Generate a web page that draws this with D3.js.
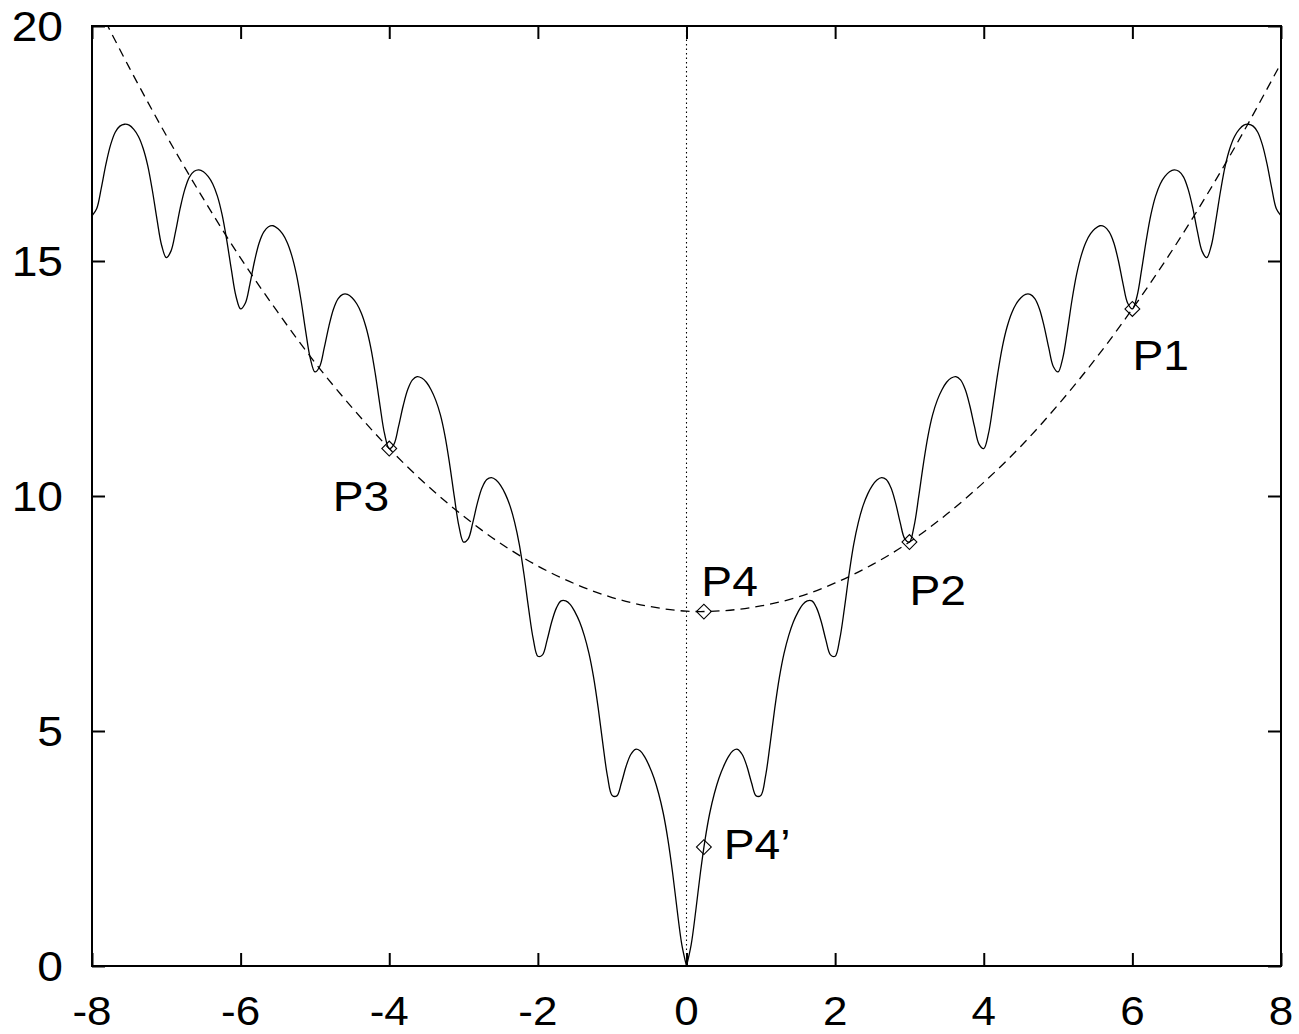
<!DOCTYPE html>
<html>
<head>
<meta charset="utf-8">
<script src="https://cdn.jsdelivr.net/npm/d3@7"></script>
<style>
  html, body { margin: 0; padding: 0; background: #ffffff; }
  svg { display: block; }
  text { font-family: "Liberation Sans", Arial, Helvetica, sans-serif; fill: #000; }
</style>
</head>
<body>
<svg id="chart" width="1299" height="1034"></svg>
<script>
// ---------------- DATA ----------------
const xTicks = [-8, -6, -4, -2, 0, 2, 4, 6, 8];
const yTicks = [0, 5, 10, 15, 20];

const curveX = [
  -8, -7.9375, -7.875, -7.8125, -7.75, -7.6875, -7.625, -7.5625, -7.5, -7.4375, -7.375, -7.3125, -7.25, -7.1875, -7.125, -7.0625,
  -7, -6.9375, -6.875, -6.8125, -6.75, -6.6875, -6.625, -6.5625, -6.5, -6.4375, -6.375, -6.3125, -6.25, -6.1875, -6.125, -6.0625,
  -6, -5.9375, -5.875, -5.8125, -5.75, -5.6875, -5.625, -5.5625, -5.5, -5.4375, -5.375, -5.3125, -5.25, -5.1875, -5.125, -5.0625,
  -5, -4.9375, -4.875, -4.8125, -4.75, -4.6875, -4.625, -4.5625, -4.5, -4.4375, -4.375, -4.3125, -4.25, -4.1875, -4.125, -4.0625,
  -4, -3.9375, -3.875, -3.8125, -3.75, -3.6875, -3.625, -3.5625, -3.5, -3.4375, -3.375, -3.3125, -3.25, -3.1875, -3.125, -3.0625,
  -3, -2.9375, -2.875, -2.8125, -2.75, -2.6875, -2.625, -2.5625, -2.5, -2.4375, -2.375, -2.3125, -2.25, -2.1875, -2.125, -2.0625,
  -2, -1.9375, -1.875, -1.8125, -1.75, -1.6875, -1.625, -1.5625, -1.5, -1.4375, -1.375, -1.3125, -1.25, -1.1875, -1.125, -1.0625,
  -1, -0.9375, -0.875, -0.8125, -0.75, -0.6875, -0.625, -0.5625, -0.5, -0.4375, -0.375, -0.3125, -0.25, -0.1875, -0.125, -0.0625,
  0, 0.0625, 0.125, 0.1875, 0.25, 0.3125, 0.375, 0.4375, 0.5, 0.5625, 0.625, 0.6875, 0.75, 0.8125, 0.875, 0.9375,
  1, 1.0625, 1.125, 1.1875, 1.25, 1.3125, 1.375, 1.4375, 1.5, 1.5625, 1.625, 1.6875, 1.75, 1.8125, 1.875, 1.9375,
  2, 2.0625, 2.125, 2.1875, 2.25, 2.3125, 2.375, 2.4375, 2.5, 2.5625, 2.625, 2.6875, 2.75, 2.8125, 2.875, 2.9375,
  3, 3.0625, 3.125, 3.1875, 3.25, 3.3125, 3.375, 3.4375, 3.5, 3.5625, 3.625, 3.6875, 3.75, 3.8125, 3.875, 3.9375,
  4, 4.0625, 4.125, 4.1875, 4.25, 4.3125, 4.375, 4.4375, 4.5, 4.5625, 4.625, 4.6875, 4.75, 4.8125, 4.875, 4.9375,
  5, 5.0625, 5.125, 5.1875, 5.25, 5.3125, 5.375, 5.4375, 5.5, 5.5625, 5.625, 5.6875, 5.75, 5.8125, 5.875, 5.9375,
  6, 6.0625, 6.125, 6.1875, 6.25, 6.3125, 6.375, 6.4375, 6.5, 6.5625, 6.625, 6.6875, 6.75, 6.8125, 6.875, 6.9375,
  7, 7.0625, 7.125, 7.1875, 7.25, 7.3125, 7.375, 7.4375, 7.5, 7.5625, 7.625, 7.6875, 7.75, 7.8125, 7.875, 7.9375,
  8
];
const curveY = [
  15.96, 16.11, 16.55, 17.06, 17.47, 17.74, 17.87, 17.91, 17.89, 17.80, 17.65, 17.40, 17.03, 16.50, 15.88, 15.33,
  15.07, 15.21, 15.63, 16.13, 16.53, 16.79, 16.91, 16.94, 16.90, 16.80, 16.64, 16.38, 15.99, 15.45, 14.82, 14.25,
  13.98, 14.10, 14.51, 15.00, 15.39, 15.62, 15.73, 15.75, 15.69, 15.58, 15.40, 15.12, 14.72, 14.17, 13.51, 12.93,
  12.64, 12.75, 13.15, 13.61, 13.98, 14.20, 14.29, 14.29, 14.22, 14.09, 13.89, 13.59, 13.17, 12.60, 11.93, 11.32,
  11.01, 11.10, 11.48, 11.92, 12.27, 12.47, 12.54, 12.51, 12.42, 12.26, 12.04, 11.73, 11.28, 10.68, 9.99, 9.36,
  9.02, 9.09, 9.44, 9.86, 10.18, 10.35, 10.39, 10.34, 10.22, 10.04, 9.79, 9.44, 8.97, 8.34, 7.61, 6.96,
  6.59, 6.62, 6.94, 7.33, 7.62, 7.77, 7.77, 7.69, 7.53, 7.32, 7.03, 6.65, 6.14, 5.48, 4.72, 4.03,
  3.63, 3.62, 3.90, 4.25, 4.50, 4.61, 4.58, 4.45, 4.25, 4.00, 3.67, 3.25, 2.69, 1.99, 1.18, 0.45,
  0, 0.45, 1.18, 1.99, 2.69, 3.25, 3.67, 4.00, 4.25, 4.45, 4.58, 4.61, 4.50, 4.25, 3.90, 3.62,
  3.63, 4.03, 4.72, 5.48, 6.14, 6.65, 7.03, 7.32, 7.53, 7.69, 7.77, 7.77, 7.62, 7.33, 6.94, 6.62,
  6.59, 6.96, 7.61, 8.34, 8.97, 9.44, 9.79, 10.04, 10.22, 10.34, 10.39, 10.35, 10.18, 9.86, 9.44, 9.09,
  9.02, 9.36, 9.99, 10.68, 11.28, 11.73, 12.04, 12.26, 12.42, 12.51, 12.54, 12.47, 12.27, 11.92, 11.48, 11.10,
  11.01, 11.32, 11.93, 12.60, 13.17, 13.59, 13.89, 14.09, 14.22, 14.29, 14.29, 14.20, 13.98, 13.61, 13.15, 12.75,
  12.64, 12.93, 13.51, 14.17, 14.72, 15.12, 15.40, 15.58, 15.69, 15.75, 15.73, 15.62, 15.39, 15.00, 14.51, 14.10,
  13.98, 14.25, 14.82, 15.45, 15.99, 16.38, 16.64, 16.80, 16.90, 16.94, 16.91, 16.79, 16.53, 16.13, 15.63, 15.21,
  15.07, 15.33, 15.88, 16.50, 17.03, 17.40, 17.65, 17.80, 17.89, 17.91, 17.87, 17.74, 17.47, 17.06, 16.55, 16.11,
  15.96
];

// Dashed parabola
const parabolaX = [-8, -7.5, -7, -6.5, -6, -5.5, -5, -4.5, -4, -3.5, -3, -2.5, -2, -1.5, -1, -0.5,
                   0, 0.5, 1, 1.5, 2, 2.5, 3, 3.5, 4, 4.5, 5, 5.5, 6, 6.5, 7, 7.5, 8];
const parabolaY = [20.66, 19.12, 17.67, 16.32, 15.06, 13.91, 12.84, 11.88, 11.01, 10.24, 9.57, 8.99, 8.51, 8.13, 7.84, 7.65,
                   7.55, 7.56, 7.66, 7.85, 8.15, 8.54, 9.02, 9.61, 10.29, 11.06, 11.94, 12.91, 13.98, 15.14, 16.40, 17.76, 19.21];

// Marked points
const pointNames = ["P1", "P2", "P3", "P4", "P4\u2019"];
const pointX = [6, 3, -4, 0.234, 0.234];
const pointY = [13.98, 9.02, 11.01, 7.54, 2.53];

// Label anchor positions (data units)
const labelX = [6, 3, -4, 0.2, 0.5];
const labelY = [13, 8, 10, 8.2, 2.6];
const labelAnchor = ["start", "start", "end", "start", "start"];

// ---------------- CHART ----------------
const W = 1299, H = 1034;
const margin = { left: 92, right: 18, top: 26, bottom: 68 };
const x = d3.scaleLinear().domain([-8, 8]).range([margin.left, W - margin.right]);
const y = d3.scaleLinear().domain([0, 20]).range([H - margin.bottom, margin.top]);

const svg = d3.select("#chart");
svg.append("rect").attr("width", W).attr("height", H).attr("fill", "#fff");

svg.append("defs").append("clipPath").attr("id", "plotclip")
  .append("rect")
  .attr("x", x(-8)).attr("y", y(20))
  .attr("width", x(8) - x(-8)).attr("height", y(0) - y(20));

const plot = svg.append("g").attr("clip-path", "url(#plotclip)");

// dotted zero line
plot.append("line")
  .attr("x1", x(0)).attr("x2", x(0))
  .attr("y1", y(20)).attr("y2", y(0))
  .attr("stroke", "#000").attr("stroke-width", 1.1)
  .attr("stroke-dasharray", "1.5,3");

// dashed parabola
const parabola = parabolaX.map((v, i) => [v, parabolaY[i]]);
plot.append("path")
  .datum(parabola)
  .attr("fill", "none").attr("stroke", "#000").attr("stroke-width", 1.3)
  .attr("stroke-dasharray", "9,6")
  .attr("d", d3.line().x(d => x(d[0])).y(d => y(d[1])).curve(d3.curveCatmullRom.alpha(0.5)));

// solid curve (drawn in two halves so the cusp at 0 stays sharp)
const curvePts = curveX.map((v, i) => [v, curveY[i]]);
const solidLine = d3.line().x(d => x(d[0])).y(d => y(d[1])).curve(d3.curveCatmullRom.alpha(0.5));
[curvePts.filter(d => d[0] <= 0), curvePts.filter(d => d[0] >= 0)].forEach(part => {
  plot.append("path")
    .datum(part)
    .attr("fill", "none").attr("stroke", "#000").attr("stroke-width", 1.3)
    .attr("stroke-linejoin", "round")
    .attr("d", solidLine);
});

// diamonds
const diamond = d3.symbol().type(d3.symbolSquare).size(110);
svg.append("g").selectAll("path")
  .data(pointX.map((v, i) => [v, pointY[i]]))
  .join("path")
  .attr("d", diamond)
  .attr("transform", d => `translate(${x(d[0])},${y(d[1])}) rotate(45)`)
  .attr("fill", "none").attr("stroke", "#000").attr("stroke-width", 1.1);

// point labels
const fs = 42;
svg.append("g").selectAll("text")
  .data(pointNames.map((n, i) => ({ n, lx: labelX[i], ly: labelY[i], a: labelAnchor[i] })))
  .join("text")
  .attr("transform", d => `translate(${x(d.lx)},${y(d.ly) + 15}) scale(1.1,1)`)
  .attr("text-anchor", d => d.a)
  .attr("font-size", fs)
  .text(d => d.n);

// ticks on all four sides (inward)
const tick = 13;
const axG = svg.append("g");
axG.append("g").attr("transform", `translate(0,${y(0)})`)
  .call(d3.axisBottom(x).tickValues(xTicks).tickSizeInner(-tick).tickSizeOuter(0).tickFormat(""));
axG.append("g").attr("transform", `translate(0,${y(20)})`)
  .call(d3.axisTop(x).tickValues(xTicks).tickSizeInner(-tick).tickSizeOuter(0).tickFormat(""));
axG.append("g").attr("transform", `translate(${x(-8)},0)`)
  .call(d3.axisLeft(y).tickValues(yTicks).tickSizeInner(-tick).tickSizeOuter(0).tickFormat(""));
axG.append("g").attr("transform", `translate(${x(8)},0)`)
  .call(d3.axisRight(y).tickValues(yTicks).tickSizeInner(-tick).tickSizeOuter(0).tickFormat(""));
axG.selectAll(".domain").remove();
axG.selectAll(".tick line").attr("stroke", "#000").attr("stroke-width", 2);

// frame
svg.append("rect")
  .attr("x", x(-8)).attr("y", y(20))
  .attr("width", x(8) - x(-8)).attr("height", y(0) - y(20))
  .attr("fill", "none").attr("stroke", "#000").attr("stroke-width", 2);

// tick labels
svg.append("g").selectAll("text")
  .data(xTicks).join("text")
  .attr("transform", d => `translate(${x(d)},${y(0) + 59}) scale(1.1,1)`)
  .attr("text-anchor", "middle")
  .attr("font-size", 40)
  .text(d => d);

svg.append("g").selectAll("text")
  .data(yTicks).join("text")
  .attr("transform", d => `translate(63,${y(d) + 15}) scale(1.1,1)`)
  .attr("text-anchor", "end")
  .attr("font-size", fs)
  .text(d => d);
</script>
</body>
</html>
